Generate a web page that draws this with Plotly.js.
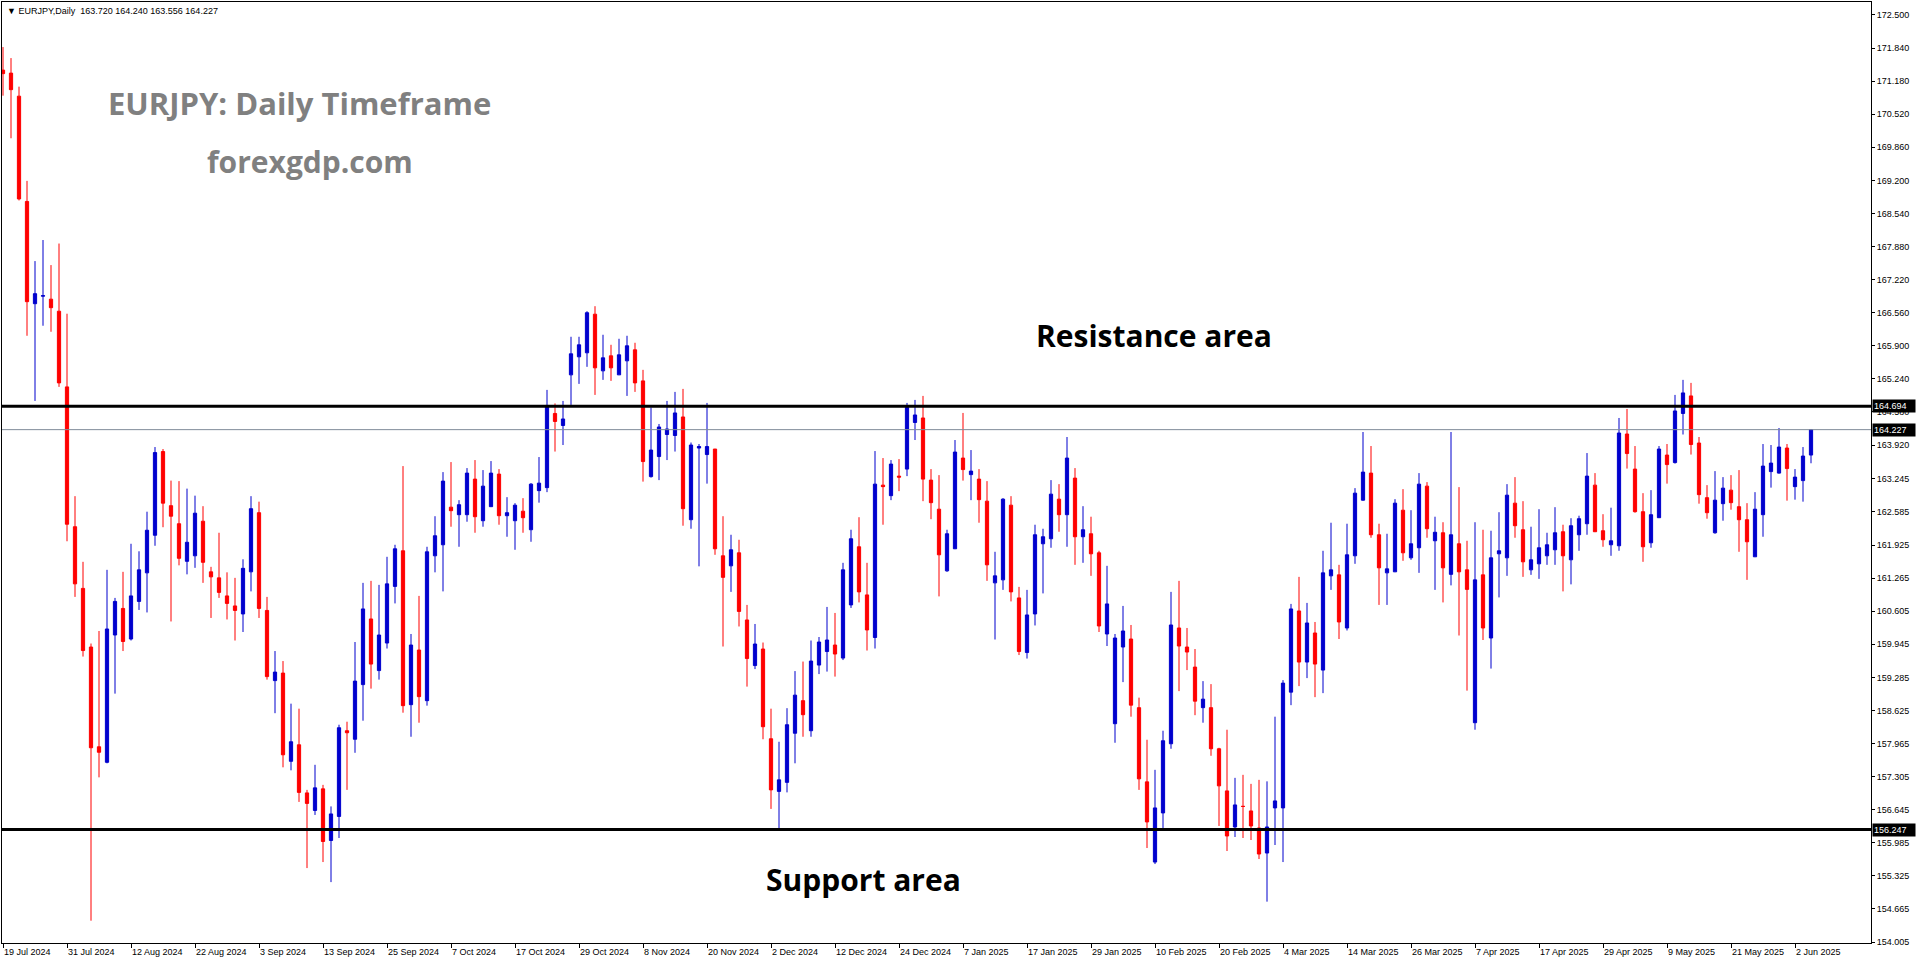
<!DOCTYPE html>
<html><head><meta charset="utf-8">
<script src="https://cdn.plot.ly/plotly-3.0.1.min.js"></script>
<style>html,body{margin:0;padding:0;background:#fff;overflow:hidden}#chart{width:1916px;height:964px}</style>
</head><body><div id="chart"></div>
<script>
// EURJPY daily bars, 19 Jul 2024 .. 4 Jun 2025
const openP = [171.40,171.34,170.88,168.78,166.74,166.89,166.83,166.59,165.08,162.29,
161.06,159.89,157.90,157.59,160.13,160.66,160.05,160.80,161.37,162.12,
163.79,162.71,162.35,161.60,161.71,162.40,161.39,161.27,160.91,160.71,
160.55,161.39,162.57,160.62,159.22,159.37,157.61,157.94,156.98,156.63,
157.06,156.03,156.51,158.22,158.05,159.14,160.45,159.42,159.97,161.10,
161.81,158.74,159.83,158.82,161.71,161.93,162.68,162.53,162.53,163.24,
162.41,162.69,163.34,162.51,162.41,162.60,162.23,163.01,163.07,164.55,
164.31,165.32,165.68,165.76,166.53,165.40,165.70,165.32,165.60,165.82,
165.20,163.29,163.69,164.13,164.11,164.48,162.43,163.86,163.73,163.84,
161.71,161.51,161.77,160.43,159.52,159.85,158.06,157.01,157.19,158.17,
158.82,158.22,159.53,159.80,159.93,159.67,160.73,161.89,160.93,160.08,
163.12,162.91,163.30,163.44,164.37,164.46,163.22,162.64,161.41,161.85,
163.66,163.33,163.24,162.80,161.17,161.23,162.72,160.87,159.78,160.55,
161.95,162.05,162.84,162.53,163.26,162.09,162.15,161.77,160.15,158.36,
159.89,160.05,158.68,157.20,155.60,156.58,157.96,160.27,159.89,159.49,
158.68,158.68,157.86,157.02,156.30,156.71,156.62,156.28,155.78,156.68,
156.68,158.99,160.61,159.59,160.17,159.43,161.31,161.33,160.27,161.71,
162.82,163.36,162.13,161.37,161.39,162.62,161.67,161.87,163.10,162.01,
162.17,161.34,161.95,161.43,158.38,161.33,160.07,161.75,161.67,162.76,
162.23,161.43,161.55,161.71,161.83,162.19,161.63,162.13,162.35,163.12,
162.21,161.93,161.91,164.14,163.44,162.59,161.97,162.47,163.72,163.57,
164.55,164.90,163.96,162.87,162.17,162.75,163.02,162.69,162.43,161.69,
162.53,163.39,163.36,163.86,163.09,163.21,163.720];
const highP = [171.86,171.64,171.07,169.19,167.59,168.01,167.51,167.94,166.54,162.90,
161.59,159.96,160.21,161.43,160.87,161.39,161.95,161.80,162.59,163.88,
163.84,163.21,163.20,163.05,162.91,162.70,161.49,162.17,161.38,161.27,
161.64,162.90,162.79,160.89,159.81,159.61,158.76,158.66,157.04,157.54,
157.14,156.71,158.34,158.40,159.99,161.17,161.21,161.13,161.69,161.93,
163.50,160.15,160.91,161.89,162.50,163.38,163.58,162.82,163.46,163.62,
163.42,163.60,163.44,162.88,162.76,162.86,163.16,163.68,165.02,164.75,
164.80,166.08,166.08,166.59,166.69,166.12,165.92,166.04,166.10,165.96,
165.42,164.67,164.34,164.80,164.98,165.04,163.97,163.94,164.76,163.84,
162.50,162.13,162.03,160.73,160.35,159.98,158.66,158.00,158.67,159.41,
159.60,160.02,160.09,160.69,160.57,161.57,162.23,162.48,161.57,163.80,
163.66,163.62,163.64,164.76,164.82,164.90,163.44,163.32,162.23,164.02,
164.56,163.82,163.44,163.20,161.79,162.86,162.90,161.09,161.03,162.33,
162.25,163.22,163.14,164.08,163.46,162.70,162.49,161.81,161.51,160.15,
160.71,160.33,158.88,158.04,157.44,158.22,160.99,161.21,160.27,159.85,
159.21,159.15,157.88,158.24,157.28,157.34,157.16,157.24,157.21,158.50,
159.23,160.75,161.29,160.77,160.39,161.81,162.37,161.53,162.35,163.06,
164.18,163.90,162.35,162.15,162.84,163.04,162.62,163.36,163.18,162.49,
162.38,164.18,163.08,162.01,162.38,162.23,162.21,162.58,163.14,163.28,
162.80,162.29,162.64,162.17,162.68,162.33,162.46,162.51,163.76,163.36,
162.54,162.67,164.46,164.64,163.90,162.96,163.02,163.90,163.94,164.92,
165.22,165.16,164.08,163.12,163.40,163.28,163.32,163.42,162.76,162.98,
163.94,163.92,164.26,163.94,163.44,163.88,164.240];
const lowP = [170.89,170.04,168.80,166.10,164.80,166.30,166.18,165.08,162.00,160.89,
159.70,154.43,157.29,157.57,158.96,159.81,160.02,160.63,160.58,161.91,
162.28,160.40,161.52,161.34,161.47,161.17,160.47,160.87,160.44,160.02,
160.19,161.00,160.47,159.24,158.57,157.49,157.43,156.80,155.48,156.54,
155.60,155.20,156.08,157.04,157.78,158.42,159.06,159.24,159.86,160.76,
158.58,158.10,158.38,158.72,161.38,161.00,162.29,161.89,162.39,162.17,
162.29,162.69,162.33,162.09,161.83,162.17,161.99,162.77,162.98,163.79,
163.92,164.72,165.14,165.48,164.92,165.22,165.20,165.32,164.90,164.98,
163.19,163.27,163.22,163.62,163.79,162.31,162.25,161.50,163.15,161.73,
159.90,160.99,160.30,159.10,159.45,158.05,156.66,156.22,156.99,157.57,
158.10,158.10,159.35,159.40,159.30,159.63,160.67,160.78,159.82,159.86,
162.33,162.82,163.00,163.30,164.02,162.80,162.44,160.90,161.39,161.85,
163.21,162.82,162.37,161.21,160.04,161.03,160.80,159.73,159.66,160.32,
160.96,161.87,162.19,161.89,161.53,161.57,161.31,160.19,159.91,157.98,
159.19,158.50,157.04,155.88,155.56,156.28,157.86,159.01,159.43,158.53,
158.38,157.72,156.32,155.82,156.10,156.08,156.04,155.66,154.81,155.94,
155.60,158.73,159.11,159.27,158.89,158.97,161.03,160.05,160.22,161.55,
162.81,162.07,160.73,160.73,161.39,161.61,161.63,161.37,162.07,161.03,
160.78,161.12,160.12,159.02,158.24,160.03,159.46,160.88,161.31,162.07,
161.29,161.33,161.25,161.53,161.53,161.00,161.14,161.81,162.13,162.19,
161.89,161.71,161.81,163.45,162.57,161.59,161.87,162.47,163.15,163.55,
164.13,163.73,162.75,162.45,162.15,162.41,162.63,161.79,161.23,161.69,
162.09,163.07,163.35,162.81,162.83,162.79,163.556];
const closeP = [171.33,171.01,168.83,166.78,166.94,166.90,166.66,165.16,162.34,161.15,
159.82,157.88,157.79,160.25,160.80,160.00,160.91,161.43,162.22,163.77,
162.76,162.50,161.66,161.98,162.56,161.58,161.29,160.98,160.76,160.62,
161.46,162.65,160.66,159.30,159.39,157.74,158.00,156.99,156.77,157.08,
156.01,156.56,158.28,158.18,159.21,160.65,159.55,160.13,161.15,161.85,
158.72,159.93,158.90,161.79,162.11,163.20,162.61,162.73,163.36,162.49,
163.10,163.36,162.51,162.57,162.72,162.47,163.14,163.16,164.71,164.39,
164.44,165.74,165.92,166.56,165.46,165.66,165.46,165.72,165.90,165.16,
163.59,163.82,164.28,164.24,164.56,162.65,163.92,163.89,163.89,161.85,
161.28,161.83,160.60,159.66,159.95,158.30,157.04,157.24,158.34,158.93,
158.54,159.61,159.99,160.03,159.75,161.43,162.05,160.99,160.23,163.14,
163.09,163.54,163.28,164.67,164.52,163.24,162.77,161.73,162.15,163.78,
163.43,163.40,162.83,161.53,161.31,162.84,160.99,159.80,160.53,162.13,
162.09,162.94,162.53,163.66,162.09,162.23,161.75,160.31,160.75,160.07,
160.21,158.73,157.26,156.40,156.68,158.02,160.33,159.91,159.79,158.81,
158.85,157.86,157.12,156.12,156.74,156.71,156.32,155.76,156.30,156.82,
159.17,160.65,159.59,160.37,159.55,161.37,161.43,160.39,161.73,162.96,
163.38,162.13,161.47,161.45,162.76,161.77,161.95,163.14,162.25,162.18,
161.47,162.13,161.39,161.04,161.23,160.27,161.67,161.81,162.92,162.31,
161.59,161.63,161.87,161.93,162.17,161.71,162.31,162.45,163.30,162.19,
162.03,162.01,164.16,163.75,162.59,161.89,162.53,163.84,163.53,164.60,
164.96,163.93,162.93,162.57,162.82,163.06,162.77,162.43,161.99,162.64,
163.50,163.56,163.88,163.45,163.28,163.70,164.227];

const tickBars = [0,8,16,24,32,40,48,56,64,72,80,88,96,104,112,120,128,136,144,152,160,168,176,184,192,200,208,216,224];
const tickLabels = ['19 Jul 2024','31 Jul 2024','12 Aug 2024','22 Aug 2024','3 Sep 2024','13 Sep 2024','25 Sep 2024','7 Oct 2024','17 Oct 2024','29 Oct 2024','8 Nov 2024','20 Nov 2024','2 Dec 2024','12 Dec 2024','24 Dec 2024','7 Jan 2025','17 Jan 2025','29 Jan 2025','10 Feb 2025','20 Feb 2025','4 Mar 2025','14 Mar 2025','26 Mar 2025','7 Apr 2025','17 Apr 2025','29 Apr 2025','9 May 2025','21 May 2025','2 Jun 2025'];
const priceTicks = [172.500,171.840,171.180,170.520,169.860,169.200,168.540,167.880,167.220,166.560,165.900,165.240,164.580,163.920,163.245,162.585,161.925,161.265,160.605,159.945,159.285,158.625,157.965,157.305,156.645,155.985,155.325,154.665,154.005];
const resistanceLevel = 164.694;
const supportLevel = 156.247;
const lastPrice = 164.227;
const headerText = 'EURJPY,Daily\u00a0\u00a0163.720 164.240 163.556 164.227';

const barIndex = openP.map((_, i) => i);
const BLUE = '#0000CD', RED = '#FF0000';
const F = 'Liberation Sans, Arial, sans-serif';

const trace = {
  type: 'candlestick', x: barIndex, open: openP, high: highP, low: lowP, close: closeP,
  increasing: {line: {color: BLUE, width: 1}, fillcolor: BLUE},
  decreasing: {line: {color: RED, width: 1}, fillcolor: RED},
  whiskerwidth: 0, hoverinfo: 'skip', showlegend: false
};

const hline = (y, color, w) => ({type: 'line', xref: 'paper', x0: 0, x1: 1, yref: 'y', y0: y, y1: y, line: {color: color, width: w}, layer: 'above'});
const priceTag = (y) => ({xref: 'paper', x: 1, xanchor: 'left', xshift: 1, yref: 'y', y: y, yanchor: 'middle',
  text: y.toFixed(3), showarrow: false, bgcolor: '#000000', font: {family: F, size: 9, color: '#ffffff'},
  width: 40, align: 'left', borderpad: 1});
const pad = 1869, padH = 941;
const px = (x) => (x - 2) / pad, py = (y) => (943 - y) / padH;

const layout = {
  width: 1916, height: 964,
  margin: {l: 2, r: 45, t: 2, b: 21, pad: 0},
  paper_bgcolor: '#ffffff', plot_bgcolor: '#ffffff',
  boxgap: 0.42,
  xaxis: {range: [-0.125, 233.5], tickmode: 'array', tickvals: tickBars, ticktext: tickLabels,
    ticks: 'outside', ticklen: 4, tickcolor: '#000', tickwidth: 1, ticklabelposition: 'outside right',
    showline: true, mirror: true, linecolor: '#000', linewidth: 1, showgrid: false, zeroline: false,
    tickfont: {family: F, size: 9, color: '#000'}, rangeslider: {visible: false}, fixedrange: true},
  yaxis: {range: [153.985, 172.759], side: 'right', tickmode: 'array', tickvals: priceTicks,
    ticktext: priceTicks.map(v => v.toFixed(3)), ticks: 'outside', ticklen: 3, tickcolor: '#000',
    showline: true, mirror: true, linecolor: '#000', linewidth: 1, showgrid: false, zeroline: false,
    tickfont: {family: F, size: 9, color: '#000'}, fixedrange: true},
  shapes: [hline(lastPrice, '#7f8b99', 1), hline(resistanceLevel, '#000000', 3), hline(supportLevel, '#000000', 3)],
  annotations: [
    priceTag(resistanceLevel), priceTag(lastPrice), priceTag(supportLevel),
    {xref: 'paper', yref: 'paper', x: px(5), y: py(11), xanchor: 'left', yanchor: 'middle', showarrow: false,
      text: '\u25BC\u00a0' + headerText, font: {family: F, size: 9, color: '#000'}},
    {xref: 'paper', yref: 'paper', x: px(299), y: py(103), xanchor: 'center', yanchor: 'middle', showarrow: false,
      text: '<b>EURJPY: Daily Timeframe</b>', font: {family: 'Open Sans, sans-serif', size: 31, color: '#808080'}},
    {xref: 'paper', yref: 'paper', x: px(310), y: py(162), xanchor: 'center', yanchor: 'middle', showarrow: false,
      text: '<b>forexgdp.com</b>', font: {family: 'Open Sans, sans-serif', size: 30, color: '#808080'}},
    {xref: 'paper', yref: 'paper', x: px(1154), y: py(336), xanchor: 'center', yanchor: 'middle', showarrow: false,
      text: '<b>Resistance area</b>', font: {family: 'Open Sans, sans-serif', size: 30, color: '#000'}},
    {xref: 'paper', yref: 'paper', x: px(863), y: py(879), xanchor: 'center', yanchor: 'middle', showarrow: false,
      text: '<b>Support area</b>', font: {family: 'Open Sans, sans-serif', size: 30, color: '#000'}}
  ]
};

Plotly.newPlot('chart', [trace], layout, {displayModeBar: false, staticPlot: true});
</script></body></html>
